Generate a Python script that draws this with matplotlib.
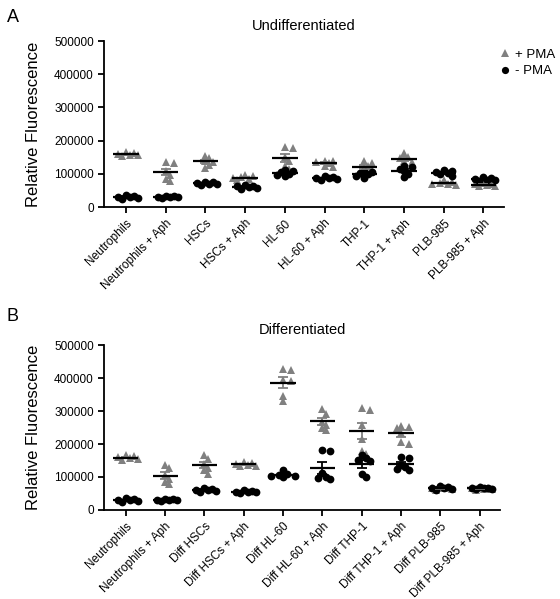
import numpy as np
import matplotlib.pyplot as plt

plt.rcParams["font.family"] = ["Liberation Sans", "DejaVu Sans"]

# ---------------------------------------------------------------------------
# Data (relative fluorescence, one value per replicate)
# ---------------------------------------------------------------------------
undiff_labels = ["Neutrophils", "Neutrophils + Aph", "HSCs", "HSCs + Aph", "HL-60",
                 "HL-60 + Aph", "THP-1", "THP-1 + Aph", "PLB-985", "PLB-985 + Aph"]
diff_labels = ["Neutrophils", "Neutrophils + Aph", "Diff HSCs", "Diff HSCs + Aph",
               "Diff HL-60", "Diff HL-60 + Aph", "Diff THP-1", "Diff THP-1 + Aph",
               "Diff PLB-985", "Diff PLB-985 + Aph"]

undiff_pma = [
    [165000, 163000, 158000, 155000, 160000, 157000],
    [136000, 132000, 108000, 95000, 85000, 78000],
    [155000, 148000, 140000, 135000, 128000, 118000],
    [97000, 92000, 90000, 87000, 85000, 80000],
    [182000, 178000, 150000, 138000, 125000, 115000],
    [140000, 138000, 135000, 132000, 125000, 120000],
    [138000, 132000, 125000, 118000, 112000, 100000],
    [162000, 152000, 148000, 140000, 135000, 125000],
    [80000, 76000, 73000, 70000, 68000, 65000],
    [72000, 70000, 68000, 66000, 64000, 62000],
]
undiff_nopma = [
    [36000, 34000, 31000, 29000, 26000, 24000],
    [33000, 32000, 31000, 30000, 29000, 28000],
    [76000, 74000, 72000, 70000, 68000, 66000],
    [66000, 64000, 62000, 60000, 58000, 55000],
    [112000, 108000, 105000, 100000, 96000, 92000],
    [92000, 90000, 88000, 86000, 84000, 80000],
    [110000, 106000, 102000, 98000, 92000, 86000],
    [125000, 120000, 115000, 108000, 100000, 90000],
    [112000, 110000, 106000, 102000, 98000, 92000],
    [90000, 88000, 85000, 82000, 80000, 78000],
]

diff_pma = [
    [166000, 164000, 160000, 157000, 155000, 152000],
    [136000, 128000, 105000, 95000, 85000, 78000],
    [168000, 155000, 140000, 128000, 120000, 110000],
    [145000, 142000, 139000, 136000, 134000, 132000],
    [428000, 425000, 395000, 390000, 345000, 330000],
    [305000, 292000, 268000, 258000, 250000, 242000],
    [310000, 304000, 258000, 215000, 180000, 170000],
    [255000, 252000, 248000, 232000, 205000, 200000],
    [74000, 70000, 68000, 66000, 63000, 60000],
    [70000, 68000, 67000, 65000, 63000, 62000],
]
diff_nopma = [
    [35000, 33000, 31000, 29000, 26000, 24000],
    [34000, 32000, 31000, 30000, 29000, 28000],
    [68000, 65000, 62000, 60000, 58000, 56000],
    [60000, 58000, 56000, 55000, 54000, 53000],
    [122000, 110000, 106000, 104000, 102000, 100000],
    [183000, 178000, 111000, 100000, 97000, 93000],
    [167000, 157000, 152000, 148000, 108000, 101000],
    [162000, 157000, 137000, 130000, 125000, 122000],
    [72000, 70000, 68000, 66000, 64000, 62000],
    [70000, 68000, 67000, 66000, 65000, 63000],
]

yticks = [0, 100000, 200000, 300000, 400000, 500000]

GRAY = "#808080"


def swarm(values, px_per_x=39.5, px_per_y=166 / 500000, size=4.5, step=4.0, nmax=3):
    """loose beeswarm: x offsets so markers overlap only partly"""
    order = np.argsort(values)[::-1]
    placed = []
    offs = np.zeros(len(values))
    cands = [0.0]
    for k in range(1, nmax + 1):
        cands += [k * step, -k * step]
    for i in order:
        yp = values[i] * px_per_y
        best, best_d = 0.0, -1
        for c in cands:
            d = min([np.hypot(c - pc, yp - py) for pc, py in placed], default=99)
            if d >= size:
                best = c
                break
            if d > best_d:
                best, best_d = c, d
        placed.append((best, yp))
        offs[i] = best / px_per_x
    return offs


def draw_panel(ax, labels, pma, nopma, title):
    for i in range(len(labels)):
        for vals, marker, color, ebc in [(pma[i], "^", GRAY, GRAY),
                                         (nopma[i], "o", "black", "black")]:
            v = np.array(vals, dtype=float)
            ax.plot(i + swarm(v), v, linestyle="none", marker=marker, color=color,
                    markersize=6 if marker == "^" else 5.6, markeredgewidth=0,
                    clip_on=False, zorder=3)
            m = v.mean()
            sem = v.std(ddof=1) / np.sqrt(len(v))
            ax.errorbar(i, m, yerr=sem, color=ebc, capsize=3.5, elinewidth=1.3,
                        capthick=1.3, zorder=4)
            ax.hlines(m, i - 0.32, i + 0.32, color="black", linewidth=1.6, zorder=5)

    ax.set_xlim(-0.55, 9.52)
    ax.set_ylim(0, 500000)
    ax.set_yticks(yticks)
    ax.set_yticklabels([str(t) for t in yticks], fontsize=8.5)
    ax.set_xticks(range(len(labels)))
    ax.set_xticklabels(labels, rotation=45, ha="right", rotation_mode="anchor",
                       fontsize=8.5)
    ax.spines["top"].set_visible(False)
    ax.spines["right"].set_visible(False)
    for s in ["left", "bottom"]:
        ax.spines[s].set_linewidth(1.3)
    ax.tick_params(width=1.3, length=4)
    ax.set_ylabel("Relative Fluorescence", fontsize=12, labelpad=9)
    ax.set_title(title, fontsize=10.5, pad=8)


fig = plt.figure(figsize=(5.6, 5.99), dpi=100)
ax1 = fig.add_axes([0.186, 0.6544, 0.714, 0.277])
ax2 = fig.add_axes([0.186, 0.1486, 0.707, 0.2754])

draw_panel(ax1, undiff_labels, undiff_pma, undiff_nopma, "Undifferentiated")
draw_panel(ax2, diff_labels, diff_pma, diff_nopma, "Differentiated")

# legend (top panel)
ax1.plot([], [], linestyle="none", marker="^", color=GRAY, markersize=5.5,
         markeredgewidth=0, label="+ PMA")
ax1.plot([], [], linestyle="none", marker="o", color="black", markersize=5.2,
         markeredgewidth=0, label="- PMA")
h, l = ax1.get_legend_handles_labels()
ax1.legend(h[-2:], l[-2:], loc="upper left", bbox_to_anchor=(0.975, 0.985),
           frameon=False, fontsize=9.5, handlelength=0.8, handletextpad=0.4,
           labelspacing=0.3, borderaxespad=0)

fig.text(0.012, 0.985, "A", fontsize=13, va="top")
fig.text(0.012, 0.485, "B", fontsize=13, va="top")

fig.savefig("out.png", dpi=100)
